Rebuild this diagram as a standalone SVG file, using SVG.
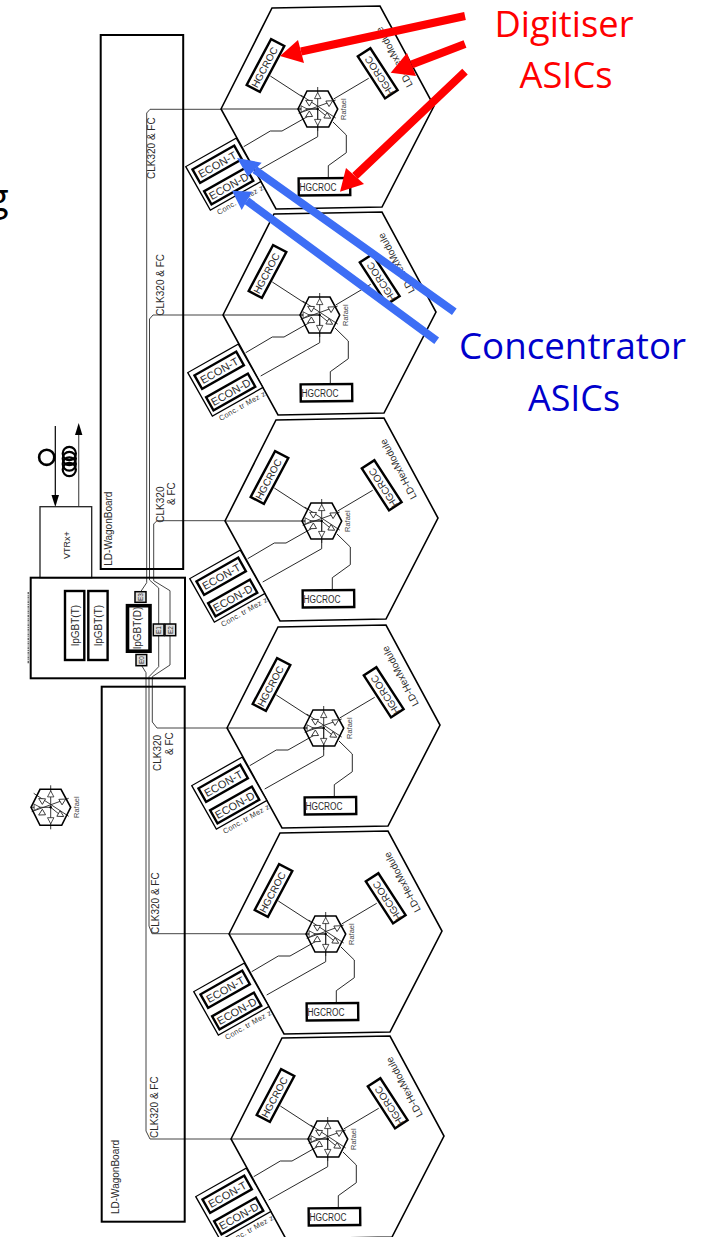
<svg xmlns="http://www.w3.org/2000/svg" xmlns:xlink="http://www.w3.org/1999/xlink" width="710" height="1237" viewBox="0 0 710 1237">
<style>
text{font-family:"Liberation Sans",Arial,sans-serif;fill:#2a2a2a;font-size:10px}
.m{text-anchor:middle}
.raf{font-size:7.5px;fill:#444}
.conc{font-size:7.5px;fill:#333}
.econ{font-size:11px;text-anchor:middle}
.ann{font-family:"Open Sans","Noto Sans",sans-serif;font-size:36px;text-anchor:middle}
.red{fill:#ff0000}.blue{fill:#0000cc}
.hex{fill:none;stroke:#000;stroke-width:1.6;stroke-linejoin:miter}
.chip{fill:#fff;stroke:#000;stroke-width:2.4}
.thin{fill:#fff;stroke:#000;stroke-width:1.3}
.board{fill:none;stroke:#000;stroke-width:2}
.link{fill:none;stroke:#111;stroke-width:.9}
.bus{fill:none;stroke:#444;stroke-width:1}
.spoke{stroke:#222;stroke-width:.9;fill:none}
.tri{fill:#fff;stroke:#222;stroke-width:.8}
.pad{fill:#ddd;stroke:#000;stroke-width:1.5}
.padt{font-size:6.5px;fill:#333;text-anchor:middle}
.ra{stroke-width:8;fill:none}
</style>
<defs>
<path id="tr" d="M0-3.5L3.2 2.6H-3.2Z"/>
<g id="hub">
<path class="spoke" d="M0-22V22M-20 0H0M-17-14L18 9M18-9L-19 4.3M0 0L11 9"/>
<path class="hex" d="M-19.7 0L-10.7-18H10.3L20 0L11 18H-10.7Z"/>
<use xlink:href="#tr" href="#tr" class="tri" transform="translate(0,-13)"/>
<use xlink:href="#tr" href="#tr" class="tri" transform="translate(0,13) rotate(180)"/>
<use xlink:href="#tr" href="#tr" class="tri" transform="translate(-14,0) rotate(90)"/>
<use xlink:href="#tr" href="#tr" class="tri" transform="translate(12,-6.5) rotate(60)"/>
<use xlink:href="#tr" href="#tr" class="tri" transform="translate(10,7.5) rotate(120)"/>
<use xlink:href="#tr" href="#tr" class="tri" transform="translate(-9,6) rotate(-120)"/>
<use xlink:href="#tr" href="#tr" class="tri" transform="translate(-9,-7) rotate(-60)"/>
<circle r="1.2" fill="#000"/>
</g>
<g id="modBody">
<path class="hex" d="M0 0L51-101L159-103L213-3L161 98L55 100Z"/>
<path class="thin" transform="translate(2.3,65.1) rotate(-29.5)" d="M-29-25H29V25H-29Z"/>
<rect class="chip" x="-24" y="-8" width="48" height="15.5" transform="translate(-3.7,55.5) rotate(-29.5)"/>
<rect class="chip" x="-24" y="-7.5" width="48" height="15" transform="translate(7.7,77) rotate(-29.5)"/>
<rect class="chip" x="-26" y="-7.5" width="52" height="15" transform="translate(44.5,-43.5) rotate(-62)"/>
<rect class="chip" x="-25" y="-7.5" width="50" height="15" transform="translate(156.7,-35.7) rotate(57)"/>
<rect class="chip" x="77.7" y="69.2" width="51.5" height="17" transform="rotate(-.5 103 78)"/>
<use xlink:href="#hub" href="#hub" x="96.7"/>
</g>
<g id="modLinks">
<path class="link" d="M0 0H96.7M49.3-33L82.7-11.3M147.7-30.7L112.7-10M22.7 37.7L49.3 22H61L89.3 6M37.7 61L96.7 27.7V0M112 13L125.3 26V43.7L107.3 56.7V68.7"/>
</g>
</defs>

<text x="-12" y="211" style="font-family:'Open Sans',sans-serif;font-size:38px;fill:#000">g</text>

<g id="connectors">
<path class="bus" d="M221 109.3H150L146.7 113V582.7L140.7 591.7"/>
<path class="bus" d="M223 315H153L149.5 319V580L158.7 588V624"/>
<path class="bus" d="M225 520.7H157L153.7 524V580.7L170 590.7V624"/>
<path class="bus" d="M158.7 635.7V666.7L149 676.7V926L152 933.7H229"/>
<path class="bus" d="M170 635.7V665L152.3 676.7V722L157 728H227"/>
<path class="bus" d="M141.7 665.7L146 672.7V1131L150 1139H231"/>
<use xlink:href="#modLinks" href="#modLinks" transform="translate(221,109)"/>
<use xlink:href="#modLinks" href="#modLinks" transform="translate(223,315)"/>
<use xlink:href="#modLinks" href="#modLinks" transform="translate(225,521)"/>
<use xlink:href="#modLinks" href="#modLinks" transform="translate(227,728)"/>
<use xlink:href="#modLinks" href="#modLinks" transform="translate(229,934)"/>
<use xlink:href="#modLinks" href="#modLinks" transform="translate(231,1139)"/>
<path stroke="#000" stroke-width="1.2" d="M55.3 426V497"/>
<path fill="#000" d="M55.3 507L51.5 495H59Z"/>
<path stroke="#555" stroke-width="1.2" d="M78.7 506V432"/>
<path fill="#000" d="M78.7 423L75 435H82.4Z"/>
</g>

<g id="wagon-top"><rect class="board" x="100.7" y="35" width="82.5" height="534"/>
<text transform="translate(111.7,565.7) rotate(-90)">LD-WagonBoard</text></g>
<g id="wagon-bottom"><rect class="board" x="101.7" y="686.7" width="83" height="535"/>
<text transform="translate(119,1214) rotate(-90)">LD-WagonBoard</text></g>

<g id="bus-labels">
<text transform="translate(155.2,179) rotate(-90)">CLK320 &amp; FC</text>
<text transform="translate(163.5,315.7) rotate(-90)">CLK320 &amp; FC</text>
<text transform="translate(163.5,522.7) rotate(-90)">CLK320</text>
<text transform="translate(175.2,505) rotate(-90)">&amp; FC</text>
<text transform="translate(160.8,771) rotate(-90)">CLK320</text>
<text transform="translate(172.5,755) rotate(-90)">&amp; FC</text>
<text transform="translate(158.5,934) rotate(-90)">CLK320 &amp; FC</text>
<text transform="translate(157.8,1138) rotate(-90)">CLK320 &amp; FC</text>
</g>

<g id="vtrx">
<rect x="40" y="506.7" width="51.7" height="71" fill="#fff" stroke="#222" stroke-width="1.3"/>
<text transform="translate(69.5,559) rotate(-90)" style="font-size:9px">VTRx+</text>
</g>
<g id="fibre">
<circle cx="46.7" cy="457.3" r="7.6" fill="none" stroke="#000" stroke-width="2.6"/>
<g fill="none" stroke="#000" stroke-width="2.2"><circle cx="69.3" cy="453.5" r="6.6"/><circle cx="69.3" cy="458.5" r="6.6"/><circle cx="69.3" cy="464" r="6.6"/><circle cx="69.3" cy="469.5" r="6.6"/></g>
</g>

<g id="lpgbt-board">
<rect x="30.7" y="577.7" width="154.3" height="100.6" fill="none" stroke="#000" stroke-width="2"/>
<path d="M28.3 592V664" stroke="#666" stroke-width="1.5" stroke-dasharray="2 .8 1 .8"/>
</g>
<g id="lpgbt-t1"><rect class="chip" x="65" y="591" width="19.3" height="69"/><text transform="translate(78.5,646) rotate(-90)">lpGBT(T)</text></g>
<g id="lpgbt-t2"><rect class="chip" x="88.3" y="591" width="19.3" height="69"/><text transform="translate(101.5,646) rotate(-90)">lpGBT(T)</text></g>
<g id="lpgbt-d"><rect x="127.5" y="605.7" width="22.5" height="45.5" fill="#fff" stroke="#000" stroke-width="3.6"/><text transform="translate(140.5,649) rotate(-90)">lpGBT(D)</text></g>
<g id="e3"><rect class="pad" x="135" y="591.7" width="11" height="10.6"/><text class="padt" transform="translate(142.7,597) rotate(-90)">E3</text></g>
<g id="e0"><rect class="pad" x="136" y="654.5" width="10.7" height="11.2"/><text class="padt" transform="translate(143.5,660) rotate(-90)">E0</text></g>
<g id="e1"><rect class="pad" x="153.3" y="624" width="10.7" height="11.7"/><text class="padt" transform="translate(160.8,630) rotate(-90)">E1</text></g>
<g id="e2"><rect class="pad" x="165" y="624" width="10.7" height="11.7"/><text class="padt" transform="translate(172.5,630) rotate(-90)">E2</text></g>

<g id="rafael-legend"><use xlink:href="#hub" href="#hub" transform="translate(50.7,807.3)"/><text class="raf" transform="translate(78.5,818) rotate(-90)">Rafael</text></g>

<g id="module-1" transform="translate(221,109)"><use xlink:href="#modBody" href="#modBody"/>
<text class="m" transform="translate(44.5,-43.5) rotate(-62)" x="-2" y="3.5">HGCROC</text>
<text class="m" transform="translate(156.7,-35.7) rotate(-123)" x="-3" y="3.5">HGCROC</text>
<text x="78.5" y="81.5" textLength="37" lengthAdjust="spacingAndGlyphs">HGCROC</text>
<text class="econ" transform="translate(-3.7,55.5) rotate(-29.5)" y="4">ECON-T</text>
<text class="econ" transform="translate(7.7,77) rotate(-29.5)" y="4">ECON-D</text>
<text class="conc" transform="translate(-2.3,106) rotate(-29.5)" textLength="52">Conc. tr Mez z</text>
<text class="raf" transform="translate(125,11) rotate(-90)">Rafael</text>
<text transform="translate(192,-24) rotate(-118)">LD-HexModule</text></g>

<g id="module-2" transform="translate(223,315)"><use xlink:href="#modBody" href="#modBody"/>
<text class="m" transform="translate(44.5,-43.5) rotate(-62)" x="-2" y="3.5">HGCROC</text>
<text class="m" transform="translate(156.7,-35.7) rotate(-123)" x="-3" y="3.5">HGCROC</text>
<text x="78.5" y="81.5" textLength="37" lengthAdjust="spacingAndGlyphs">HGCROC</text>
<text class="econ" transform="translate(-3.7,55.5) rotate(-29.5)" y="4">ECON-T</text>
<text class="econ" transform="translate(7.7,77) rotate(-29.5)" y="4">ECON-D</text>
<text class="conc" transform="translate(-2.3,106) rotate(-29.5)" textLength="52">Conc. tr Mez z</text>
<text class="raf" transform="translate(125,11) rotate(-90)">Rafael</text>
<text transform="translate(192,-24) rotate(-118)">LD-HexModule</text></g>

<g id="module-3" transform="translate(225,521)"><use xlink:href="#modBody" href="#modBody"/>
<text class="m" transform="translate(44.5,-43.5) rotate(-62)" x="-2" y="3.5">HGCROC</text>
<text class="m" transform="translate(156.7,-35.7) rotate(-123)" x="-3" y="3.5">HGCROC</text>
<text x="78.5" y="81.5" textLength="37" lengthAdjust="spacingAndGlyphs">HGCROC</text>
<text class="econ" transform="translate(-3.7,55.5) rotate(-29.5)" y="4">ECON-T</text>
<text class="econ" transform="translate(7.7,77) rotate(-29.5)" y="4">ECON-D</text>
<text class="conc" transform="translate(-2.3,106) rotate(-29.5)" textLength="52">Conc. tr Mez z</text>
<text class="raf" transform="translate(125,11) rotate(-90)">Rafael</text>
<text transform="translate(192,-24) rotate(-118)">LD-HexModule</text></g>

<g id="module-4" transform="translate(227,728)"><use xlink:href="#modBody" href="#modBody"/>
<text class="m" transform="translate(44.5,-43.5) rotate(-62)" x="-2" y="3.5">HGCROC</text>
<text class="m" transform="translate(156.7,-35.7) rotate(-123)" x="-3" y="3.5">HGCROC</text>
<text x="78.5" y="81.5" textLength="37" lengthAdjust="spacingAndGlyphs">HGCROC</text>
<text class="econ" transform="translate(-3.7,55.5) rotate(-29.5)" y="4">ECON-T</text>
<text class="econ" transform="translate(7.7,77) rotate(-29.5)" y="4">ECON-D</text>
<text class="conc" transform="translate(-2.3,106) rotate(-29.5)" textLength="52">Conc. tr Mez z</text>
<text class="raf" transform="translate(125,11) rotate(-90)">Rafael</text>
<text transform="translate(192,-24) rotate(-118)">LD-HexModule</text></g>

<g id="module-5" transform="translate(229,934)"><use xlink:href="#modBody" href="#modBody"/>
<text class="m" transform="translate(44.5,-43.5) rotate(-62)" x="-2" y="3.5">HGCROC</text>
<text class="m" transform="translate(156.7,-35.7) rotate(-123)" x="-3" y="3.5">HGCROC</text>
<text x="78.5" y="81.5" textLength="37" lengthAdjust="spacingAndGlyphs">HGCROC</text>
<text class="econ" transform="translate(-3.7,55.5) rotate(-29.5)" y="4">ECON-T</text>
<text class="econ" transform="translate(7.7,77) rotate(-29.5)" y="4">ECON-D</text>
<text class="conc" transform="translate(-2.3,106) rotate(-29.5)" textLength="52">Conc. tr Mez z</text>
<text class="raf" transform="translate(125,11) rotate(-90)">Rafael</text>
<text transform="translate(192,-24) rotate(-118)">LD-HexModule</text></g>

<g id="module-6" transform="translate(231,1139)"><use xlink:href="#modBody" href="#modBody"/>
<text class="m" transform="translate(44.5,-43.5) rotate(-62)" x="-2" y="3.5">HGCROC</text>
<text class="m" transform="translate(156.7,-35.7) rotate(-123)" x="-3" y="3.5">HGCROC</text>
<text x="78.5" y="81.5" textLength="37" lengthAdjust="spacingAndGlyphs">HGCROC</text>
<text class="econ" transform="translate(-3.7,55.5) rotate(-29.5)" y="4">ECON-T</text>
<text class="econ" transform="translate(7.7,77) rotate(-29.5)" y="4">ECON-D</text>
<text class="conc" transform="translate(-2.3,106) rotate(-29.5)" textLength="52">Conc. tr Mez z</text>
<text class="raf" transform="translate(125,11) rotate(-90)">Rafael</text>
<text transform="translate(192,-24) rotate(-118)">LD-HexModule</text></g>

<g id="digitiser-arrows">
<path class="ra" stroke="#ff0000" d="M465 16L301 51.5M465 44L411.5 64.5M465 71.7L355 176"/>
<path fill="#ff0000" d="M280 56L298 40L304 63ZM390.7 72.7L407 53L416 76ZM340 191.7L346 168L364 184Z"/>
</g>
<g id="concentrator-arrows">
<path class="ra" stroke="#3d6ef5" d="M454.3 311.7L254.8 169.7M436.7 340.7L246.8 200.8"/>
<path fill="#3d6ef5" d="M237 158L261.7 162.7L248 176.7ZM232 190.7L252 191.7L241.7 210Z"/>
</g>
<g id="annotations">
<text class="ann red" x="564" y="37" textLength="139" lengthAdjust="spacingAndGlyphs">Digitiser</text>
<text class="ann red" x="566" y="88" textLength="93" lengthAdjust="spacingAndGlyphs">ASICs</text>
<text class="ann blue" x="572.5" y="359" textLength="227" lengthAdjust="spacingAndGlyphs">Concentrator</text>
<text class="ann blue" x="574" y="411" textLength="92" lengthAdjust="spacingAndGlyphs">ASICs</text>
</g>
</svg>
